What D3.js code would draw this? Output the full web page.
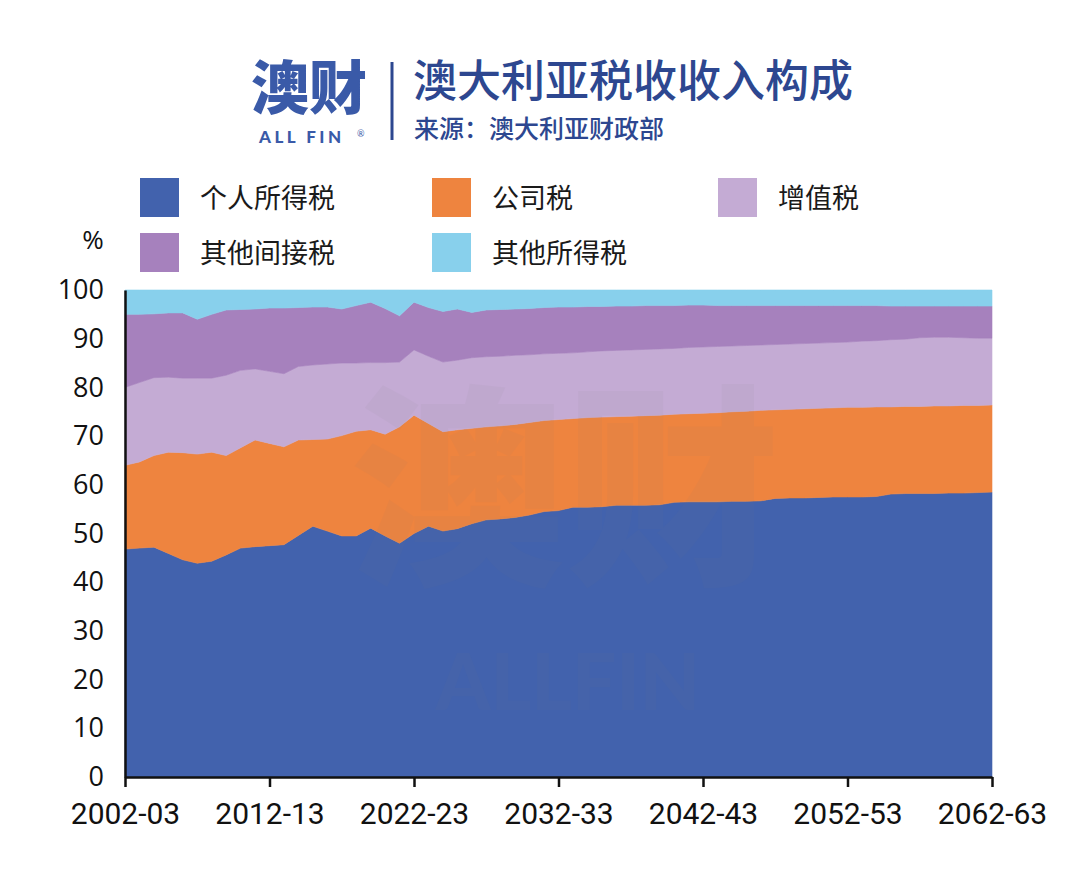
<!DOCTYPE html>
<html>
<head>
<meta charset="utf-8">
<script src="https://cdn.jsdelivr.net/npm/d3@7"></script>
<style>
  body { margin: 0; background: #fff; }
  svg { display: block; }
</style>
</head>
<body>
<svg id="chart" width="1080" height="891"></svg>
<script>
// fiscal years 2002-03 .. 2062-63
const years = d3.range(2002, 2063).map(y => `${y}-${String((y + 1) % 100).padStart(2, "0")}`);
const xTickLabels = ["2002-03", "2012-13", "2022-23", "2032-33", "2042-43", "2052-53", "2062-63"];
const yTicks = [0, 10, 20, 30, 40, 50, 60, 70, 80, 90, 100];

const seriesNames = ["个人所得税", "公司税", "增值税", "其他间接税", "其他所得税"];
const seriesColors = ["#4262ad", "#ee843f", "#c4abd4", "#a681bd", "#88d0ec"];

// share of total tax receipts, %
const personalIncome = [46.8, 47.0, 47.2, 45.9, 44.6, 43.9, 44.3, 45.6, 47.0, 47.3, 47.5, 47.7, 49.6, 51.5, 50.5, 49.5, 49.5, 51.1, 49.5, 48.0,
  50.0, 51.5, 50.5, 51.0, 52.0, 52.8, 53.0, 53.3, 53.8, 54.5, 54.7, 55.4, 55.4, 55.5, 55.8, 55.8, 55.8, 55.9, 56.4, 56.5,
  56.5, 56.5, 56.6, 56.6, 56.7, 57.2, 57.3, 57.3, 57.4, 57.5, 57.5, 57.5, 57.6, 58.1, 58.2, 58.2, 58.2, 58.3, 58.3, 58.4, 58.5];
const companyTax = [17.2, 17.7, 18.8, 20.8, 22.0, 22.4, 22.4, 20.4, 20.6, 21.9, 21.0, 20.1, 19.6, 17.8, 18.9, 20.6, 21.5, 20.2, 20.9, 23.9,
  24.3, 21.1, 20.4, 20.3, 19.6, 19.1, 19.1, 19.1, 19.0, 18.7, 18.7, 18.2, 18.4, 18.4, 18.2, 18.3, 18.4, 18.4, 18.1, 18.1,
  18.2, 18.3, 18.4, 18.5, 18.6, 18.2, 18.2, 18.3, 18.3, 18.3, 18.4, 18.4, 18.4, 17.9, 17.9, 17.9, 18.0, 17.9, 18.0, 17.9, 17.9];
const gst = [16.0, 16.3, 16.0, 15.4, 15.3, 15.6, 15.2, 16.5, 15.9, 14.6, 14.8, 15.0, 15.1, 15.3, 15.4, 14.9, 14.0, 13.8, 14.7, 13.3,
  13.4, 13.8, 14.3, 14.3, 14.5, 14.4, 14.3, 14.2, 13.9, 13.7, 13.6, 13.5, 13.5, 13.6, 13.6, 13.6, 13.6, 13.6, 13.5, 13.6,
  13.6, 13.6, 13.5, 13.5, 13.4, 13.4, 13.4, 13.4, 13.4, 13.4, 13.4, 13.6, 13.6, 13.8, 13.8, 14.1, 14.1, 14.1, 13.9, 13.8, 13.7];
const otherIndirect = [15.0, 14.0, 13.1, 13.2, 13.4, 12.1, 13.1, 13.4, 12.5, 12.3, 13.0, 13.5, 12.1, 11.9, 11.7, 11.1, 11.8, 12.4, 11.1, 9.5,
  9.8, 10.0, 10.4, 10.5, 9.3, 9.6, 9.6, 9.5, 9.5, 9.5, 9.5, 9.4, 9.3, 9.1, 9.1, 9.0, 9.0, 8.9, 8.8, 8.7,
  8.6, 8.4, 8.3, 8.2, 8.1, 8.0, 7.9, 7.8, 7.7, 7.6, 7.5, 7.3, 7.2, 6.9, 6.8, 6.5, 6.4, 6.4, 6.5, 6.6, 6.6];
const otherIncome = [5.0, 5.0, 4.9, 4.7, 4.7, 6.0, 5.0, 4.1, 4.0, 3.9, 3.7, 3.7, 3.6, 3.5, 3.5, 3.9, 3.2, 2.5, 3.8, 5.3,
  2.5, 3.6, 4.4, 3.9, 4.6, 4.1, 4.0, 3.9, 3.8, 3.6, 3.5, 3.5, 3.4, 3.4, 3.3, 3.3, 3.2, 3.2, 3.2, 3.1,
  3.1, 3.2, 3.2, 3.2, 3.2, 3.2, 3.2, 3.2, 3.2, 3.2, 3.2, 3.2, 3.2, 3.3, 3.3, 3.3, 3.3, 3.3, 3.3, 3.3, 3.3];

const seriesValues = [personalIncome, companyTax, gst, otherIndirect, otherIncome];

const rows = years.map((year, i) => {
  const row = { year };
  seriesNames.forEach((name, s) => { row[name] = seriesValues[s][i]; });
  return row;
});

const svg = d3.select("#chart");
const cjk = "'Noto Sans CJK SC', 'Noto Sans', sans-serif";

svg.append("rect").attr("width", 1080).attr("height", 891).attr("fill", "#fff");

// ---- header: logo + title
const header = svg.append("g");
header.append("text")
  .attr("x", 251).attr("y", 109)
  .attr("font-family", cjk).attr("font-weight", 900).attr("font-size", 58)
  .attr("fill", "#3a5aa8")
  .text("澳财");
header.append("text")
  .attr("x", 259).attr("y", 143)
  .attr("font-family", "Lato, 'Open Sans', sans-serif").attr("font-weight", 900).attr("font-size", 17)
  .attr("letter-spacing", 3.5)
  .attr("fill", "#3a5aa8")
  .text("ALL FIN");
header.append("text")
  .attr("x", 357).attr("y", 137)
  .attr("font-family", "Lato, sans-serif").attr("font-size", 9)
  .attr("fill", "#3a5aa8")
  .text("®");
header.append("line")
  .attr("x1", 392).attr("x2", 392).attr("y1", 62).attr("y2", 140)
  .attr("stroke", "#2d4790").attr("stroke-width", 3);
header.append("text")
  .attr("x", 413).attr("y", 97)
  .attr("font-family", cjk).attr("font-weight", 500).attr("font-size", 44)
  .attr("fill", "#2d4790")
  .text("澳大利亚税收收入构成");
header.append("text")
  .attr("x", 414).attr("y", 138)
  .attr("font-family", cjk).attr("font-weight", 500).attr("font-size", 25)
  .attr("fill", "#2d4790")
  .text("来源：澳大利亚财政部");

// ---- legend
const legendPos = [[140, 178], [432, 178], [718, 178], [140, 233], [432, 233]];
const legend = svg.append("g").selectAll("g")
  .data(seriesNames)
  .join("g")
  .attr("transform", (d, i) => `translate(${legendPos[i][0]},${legendPos[i][1]})`);
legend.append("rect")
  .attr("width", 39).attr("height", 39)
  .attr("fill", (d, i) => seriesColors[i]);
legend.append("text")
  .attr("x", 60).attr("y", 20).attr("dy", "0.36em")
  .attr("font-family", cjk).attr("font-size", 27).attr("fill", "#1a1a1a")
  .text(d => d);

// ---- chart
const x = d3.scalePoint().domain(years).range([125, 992]);
const y = d3.scaleLinear().domain([0, 100]).range([777, 290]);

const stacked = d3.stack().keys(seriesNames)(rows);

const area = d3.area()
  .x(d => x(d.data.year))
  .y0(d => y(d[0]))
  .y1(d => y(d[1]));

svg.append("g").selectAll("path")
  .data(stacked)
  .join("path")
  .attr("d", area)
  .attr("fill", (d, i) => seriesColors[i])
  .attr("stroke", (d, i) => seriesColors[i])
  .attr("stroke-width", 0.6);

// faint watermark
const wm = svg.append("g").attr("fill", "#7a7a7a").attr("opacity", 0.055).attr("pointer-events", "none");
wm.append("text")
  .attr("x", 565).attr("y", 568).attr("text-anchor", "middle")
  .attr("font-family", cjk).attr("font-weight", 900).attr("font-size", 215)
  .text("澳财");
wm.append("text")
  .attr("x", 568).attr("y", 710).attr("text-anchor", "middle")
  .attr("font-family", "Lato, sans-serif").attr("font-weight", 900).attr("font-size", 78)
  .text("ALLFIN");

// axes
const xAxis = svg.append("g")
  .attr("transform", "translate(0,777)")
  .call(d3.axisBottom(x).tickValues(xTickLabels).tickSize(10).tickPadding(16).tickSizeOuter(0));
xAxis.select(".domain").attr("stroke", "#111").attr("stroke-width", 2.5);
xAxis.selectAll(".tick line").attr("stroke", "#111").attr("stroke-width", 2.5);
xAxis.selectAll(".tick text")
  .attr("font-family", "Roboto, sans-serif").attr("font-size", 30).attr("fill", "#111");

const yAxis = svg.append("g")
  .attr("transform", "translate(125,0)")
  .call(d3.axisLeft(y).tickValues(yTicks).tickSize(0).tickPadding(21).tickSizeOuter(0));
yAxis.select(".domain").attr("stroke", "#111").attr("stroke-width", 2.5);
yAxis.selectAll(".tick text")
  .attr("font-family", "'Open Sans', sans-serif").attr("font-size", 27).attr("fill", "#111");

svg.append("text")
  .attr("x", 93).attr("y", 240).attr("dy", "0.36em").attr("text-anchor", "middle")
  .attr("font-family", "'Open Sans', sans-serif").attr("font-size", 26).attr("fill", "#111")
  .text("%");
</script>
</body>
</html>
